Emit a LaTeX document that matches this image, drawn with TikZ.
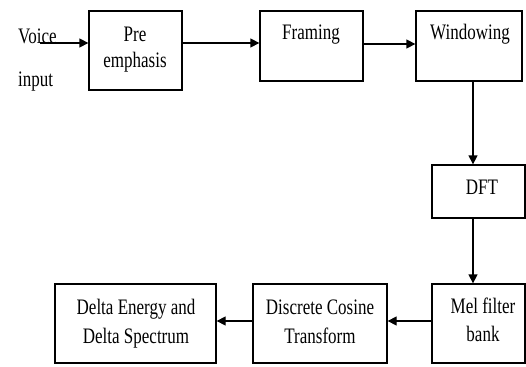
\documentclass[tikz,border=0pt]{standalone}
\usepackage{fontspec}
\setmainfont{Liberation Serif}
\usetikzlibrary{arrows.meta}
\newcommand{\vs}[1]{\scalebox{1}[1.3]{#1}}
\begin{document}
\begin{tikzpicture}[x=1pt,y=-1pt,
  box/.style={draw, line width=1.3pt, inner sep=0pt},
  lbl/.style={font=\fontsize{17}{22}\selectfont, inner sep=0pt, anchor=base},
  arr/.style={line width=1.3pt, -{Triangle[length=9pt,width=9pt]}}]
\useasboundingbox (0,0) rectangle (526,366);
% boxes
\node[box, minimum width=93pt, minimum height=79pt] (pre) at (135.5,50.5) {};
\node[box, minimum width=103pt, minimum height=70pt] (fram) at (311.5,46) {};
\node[box, minimum width=106pt, minimum height=70pt] (win) at (469,46) {};
\node[box, minimum width=93pt, minimum height=53pt] (dft) at (478.5,191.5) {};
\node[box, minimum width=93pt, minimum height=79pt] (mel) at (478.5,323.5) {};
\node[box, minimum width=134pt, minimum height=79pt] (dct) at (320,323.5) {};
\node[box, minimum width=161pt, minimum height=79pt] (delta) at (135.5,323.5) {};
% texts
\node[lbl, anchor=base west] (t1) at (18,44) {\vs{Voice}};
\node[lbl, anchor=base west] (t2) at (18,87) {\vs{input}};
\node[lbl] (t3) at (135,42) {\vs{Pre}};
\node[lbl] (t4) at (135,68) {\vs{emphasis}};
\node[lbl] (t5) at (311,40) {\vs{Framing}};
\node[lbl] (t6) at (470,40) {\vs{Windowing}};
\node[lbl] (t7) at (482,194) {\vs{DFT}};
\node[lbl] (t8) at (483,313) {\vs{Mel filter}};
\node[lbl] (t9) at (483,341) {\vs{bank}};
\node[lbl] (t10) at (320,314) {\vs{Discrete Cosine}};
\node[lbl] (t11) at (320,343) {\vs{Transform}};
\node[lbl] (t12) at (136,314) {\vs{Delta Energy and}};
\node[lbl] (t13) at (136,343) {\vs{Delta Spectrum}};
% connectors
\coordinate (vin) at (40,43);
\coordinate (vx) at (473,0);
\coordinate (hy) at (0,321);
\draw[arr] (vin) -- (vin -| pre.west);
\draw[arr] (vin -| pre.east) -- (vin -| fram.west);
\draw[arr] ([yshift=2pt]fram.east) -- ([yshift=2pt]win.west);
\draw[arr] (win.south -| vx) -- (dft.north -| vx);
\draw[arr] (dft.south -| vx) -- (mel.north -| vx);
\draw[arr] (mel.west |- hy) -- (dct.east |- hy);
\draw[arr] (dct.west |- hy) -- (delta.east |- hy);
\end{tikzpicture}
\end{document}
